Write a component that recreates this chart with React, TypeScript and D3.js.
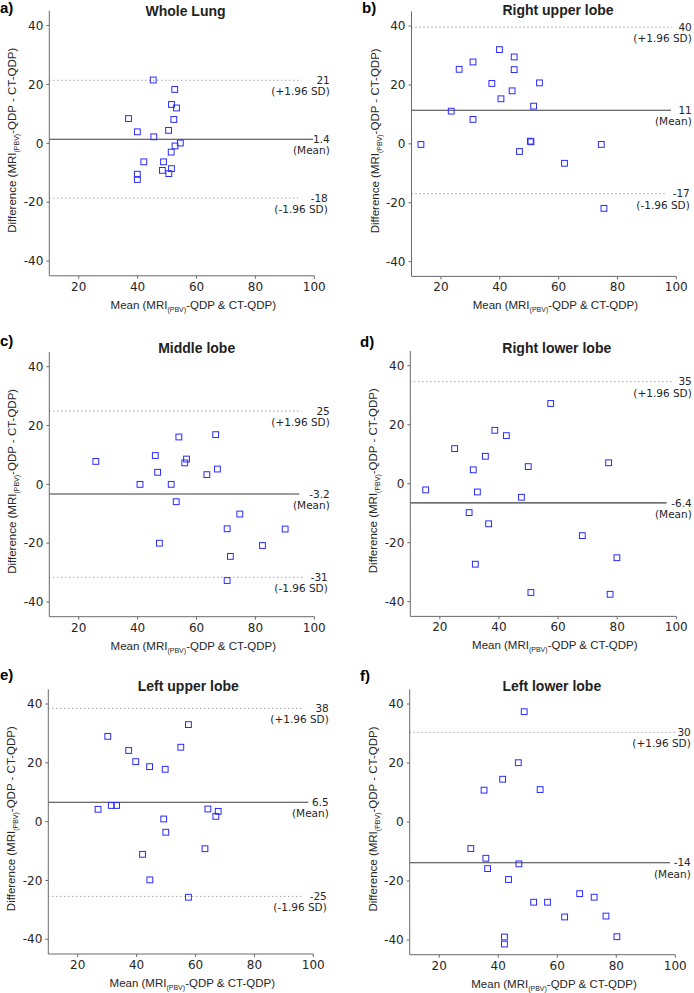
import React from 'react';
import * as d3 from 'd3';

// ---------- data ----------
const panelTags = ['a)', 'b)', 'c)', 'd)', 'e)', 'f)'];
const panelTitles = ['Whole Lung', 'Right upper lobe', 'Middle lobe', 'Right lower lobe', 'Left upper lobe', 'Left lower lobe'];

const wholeLungMean = [45.3, 52.6, 51.5, 53.2, 36.9, 52.3, 39.9, 50.5, 45.5, 54.5, 52.7, 51.4, 42.1, 48.8, 48.4, 51.5, 50.6, 39.9, 39.9];
const wholeLungDiff = [21.5, 18.3, 13.2, 12.0, 8.4, 8.1, 3.9, 4.4, 2.2, 0.1, -0.9, -3.0, -6.3, -6.3, -9.2, -8.6, -10.3, -10.5, -12.3];

const rightUpperMean = [39.9, 44.9, 30.9, 26.2, 44.9, 53.5, 37.3, 44.2, 40.4, 51.5, 23.5, 30.9, 13.2, 50.4, 50.6, 46.7, 74.5, 62.0, 75.4];
const rightUpperDiff = [32.0, 29.5, 27.8, 25.3, 25.2, 20.7, 20.5, 18.0, 15.3, 12.8, 11.1, 8.3, -0.2, 0.9, 0.7, -2.6, -0.2, -6.6, -21.9];

const middleMean = [25.8, 40.8, 46.0, 46.8, 47.4, 51.4, 53.1, 54.0, 56.0, 56.6, 63.5, 66.5, 67.1, 70.4, 74.7, 71.5, 70.4, 82.4, 90.1];
const middleDiff = [7.8, 0.0, 9.8, 4.1, -20.0, 0.0, -5.9, 16.1, 7.3, 8.6, 3.3, 16.9, 5.2, -15.1, -10.1, -24.5, -32.7, -20.8, -15.2];

const rightLowerMean = [15.2, 25.0, 31.3, 32.7, 29.9, 32.0, 35.4, 36.5, 38.6, 42.5, 47.6, 49.9, 50.8, 57.5, 68.2, 77.1, 77.6, 79.9];
const rightLowerDiff = [-2.1, 11.9, 4.7, -2.8, -9.8, -27.3, 9.3, -13.6, 18.1, 16.3, -4.6, 5.8, -36.9, 27.2, -17.6, 7.1, -37.5, -25.1];

const leftUpperMean = [26.9, 30.2, 31.4, 33.2, 37.3, 39.7, 42.0, 44.4, 44.5, 49.2, 49.7, 49.9, 55.0, 57.6, 57.6, 63.2, 64.2, 66.9, 67.7];
const leftUpperDiff = [4.2, 29.0, 5.5, 5.5, 24.2, 20.4, -11.1, 18.7, -19.8, 0.9, 17.8, -3.6, 25.3, 33.0, -25.7, -9.2, 4.3, 1.8, 3.5];

const leftLowerMean = [48.8, 46.8, 41.5, 35.2, 54.2, 30.7, 35.8, 36.4, 47.0, 43.5, 52.0, 56.7, 62.5, 67.6, 72.5, 76.5, 80.2, 42.1, 42.1];
const leftLowerDiff = [37.4, 20.1, 14.5, 10.8, 11.0, -9.0, -12.3, -15.8, -14.2, -19.5, -27.2, -27.2, -32.2, -24.3, -25.5, -31.9, -38.9, -39.0, -41.4];

const meanSeries = [wholeLungMean, rightUpperMean, middleMean, rightLowerMean, leftUpperMean, leftLowerMean];
const diffSeries = [wholeLungDiff, rightUpperDiff, middleDiff, rightLowerDiff, leftUpperDiff, leftLowerDiff];

const upperLimits = [21.4, 39.6, 24.9, 34.6, 38.5, 30.4];
const upperLabels = ['21', '40', '25', '35', '38', '30'];
const meanDiffs = [1.4, 11.4, -3.3, -6.5, 6.6, -13.8];
const meanLabels = ['1.4', '11', '-3.2', '-6.4', '6.5', '-14'];
const lowerLimits: (number | null)[] = [-18.6, -16.9, -31.6, null, -25.4, null];
const lowerLabels: (string | null)[] = ['-18', '-17', '-31', null, '-25', null];

// x-extent (data units) where each reference line stops
const upperEnds = [95.7, 98.5, 95.7, 99.0, 96.1, 99.9];
const meanEnds = [99.6, 98.2, 94.9, 96.7, 98.3, 98.2];
const lowerEnds: (number | null)[] = [94.5, 96.8, 96.5, null, 96.6, null];

const xTicks = [20, 40, 60, 80, 100];
const yTicks = [-40, -20, 0, 20, 40];
const xDomain = [10, 100];
const yDomain = [-45, 45];

// ---------- layout ----------
const layouts = [
  { x0: 49.3, x1: 314.3, yTop: 10.8, yBot: 275.8, titleX: 185.5, titleY: 16, tagX: 0, tagY: 12.5 },
  { x0: 411.5, x1: 676.3, yTop: 11.3, yBot: 276.4, titleX: 558, titleY: 15, tagX: 362, tagY: 12.5 },
  { x0: 49.3, x1: 314.3, yTop: 352, yBot: 616.7, titleX: 196.7, titleY: 353.3, tagX: 0, tagY: 346 },
  { x0: 410.3, x1: 676.3, yTop: 351, yBot: 616.4, titleX: 556.8, titleY: 353.3, tagX: 360, tagY: 347 },
  { x0: 48.3, x1: 313.3, yTop: 689.3, yBot: 954, titleX: 188.3, titleY: 690.7, tagX: 0, tagY: 680 },
  { x0: 409.7, x1: 675.3, yTop: 689.3, yBot: 954.7, titleX: 551.8, titleY: 690.7, tagX: 360, tagY: 681 },
];

const TEXT = '#262626';
const AXIS = '#6a6a6a';
const MARK = '#2a2aff';
const tickFont = 'DejaVu Sans, sans-serif';
const labelFont = 'Liberation Sans, Arial, sans-serif';

function Panel({ i }: { i: number }) {
  const L = layouts[i];
  const x = d3.scaleLinear().domain(xDomain).range([L.x0, L.x1]);
  const y = d3.scaleLinear().domain(yDomain).range([L.yBot, L.yTop]);
  const xs = meanSeries[i];
  const ys = diffSeries[i];
  const sq = 5.8;
  const labelRight = L.x1 + 15.5;
  const lowerRight = L.x1 + 13.5;
  const lines: { v: number; end: number; num: string; sub: string; dotted: boolean; right: number }[] = [
    { v: upperLimits[i], end: upperEnds[i], num: upperLabels[i], sub: '(+1.96 SD)', dotted: true, right: labelRight },
    { v: meanDiffs[i], end: meanEnds[i], num: meanLabels[i], sub: '(Mean)', dotted: false, right: labelRight },
  ];
  if (lowerLimits[i] !== null) {
    lines.push({ v: lowerLimits[i] as number, end: lowerEnds[i] as number, num: lowerLabels[i] as string, sub: '(-1.96 SD)', dotted: true, right: lowerRight });
  }
  const xMid = (L.x0 + L.x1) / 2;
  const yMid = (L.yTop + L.yBot) / 2;
  return (
    <g>
      {/* tag + title */}
      <text x={L.tagX} y={L.tagY} fontFamily={labelFont} fontWeight="bold" fontSize={15} fill="#000">{panelTags[i]}</text>
      <text x={L.titleX} y={L.titleY} textAnchor="middle" fontFamily={labelFont} fontWeight="bold" fontSize={14} fill="#222">{panelTitles[i]}</text>

      {/* reference lines */}
      {lines.map((ln, k) => (
        <g key={k}>
          <line x1={x(xDomain[0])} x2={x(ln.end)} y1={y(ln.v)} y2={y(ln.v)}
            stroke={ln.dotted ? '#777' : '#3c3c3c'} strokeWidth={ln.dotted ? 1 : 1.1}
            strokeDasharray={ln.dotted ? '1,3' : undefined} />
          <text x={ln.right} y={y(ln.v) + 3.8} textAnchor="end" fontFamily={tickFont} fontSize={10.5} fill={TEXT}>{ln.num}</text>
          <text x={ln.right} y={y(ln.v) + 15} textAnchor="end" fontFamily={tickFont} fontSize={10.5} fill={TEXT}>{ln.sub}</text>
        </g>
      ))}

      {/* axes */}
      <line x1={L.x0} x2={L.x0} y1={L.yTop} y2={L.yBot} stroke={AXIS} strokeWidth={1} />
      <line x1={L.x0} x2={L.x1} y1={L.yBot} y2={L.yBot} stroke={AXIS} strokeWidth={1} />
      {yTicks.map((t) => (
        <g key={'y' + t}>
          <line x1={L.x0 - 3} x2={L.x0} y1={y(t)} y2={y(t)} stroke={AXIS} />
          <text x={L.x0 - 6} y={y(t) + 4.2} textAnchor="end" fontFamily={tickFont} fontSize={12} fill={TEXT}>{t}</text>
        </g>
      ))}
      {xTicks.map((t) => (
        <g key={'x' + t}>
          <line x1={x(t)} x2={x(t)} y1={L.yBot} y2={L.yBot + 3} stroke={AXIS} />
          <text x={x(t)} y={L.yBot + 15} textAnchor="middle" fontFamily={tickFont} fontSize={12} fill={TEXT}>{t}</text>
        </g>
      ))}

      {/* axis labels */}
      <text x={xMid + 11.5} y={L.yBot + 33} textAnchor="middle" fontFamily={labelFont} fontSize={11.5} fill={TEXT}>
        <tspan>Mean (MRI</tspan>
        <tspan fontSize={7} dy={3}>(PBV)</tspan>
        <tspan dy={-3}>-QDP &amp; CT-QDP)</tspan>
      </text>
      <text transform={`translate(${L.x0 - 33},${yMid - 3}) rotate(-90)`} textAnchor="middle" fontFamily={labelFont} fontSize={11.5} fill={TEXT}>
        <tspan>Difference (MRI</tspan>
        <tspan fontSize={7} dy={3}>(PBV)</tspan>
        <tspan dy={-3}>-QDP - CT-QDP)</tspan>
      </text>

      {/* points */}
      {xs.map((v, k) => (
        <rect key={'p' + k} x={x(v) - sq / 2} y={y(ys[k]) - sq / 2} width={sq} height={sq}
          fill="none" stroke={MARK} strokeWidth={1} />
      ))}
    </g>
  );
}

export default function App() {
  return (
    <svg width={694} height={993} style={{ position: 'absolute', left: 0, top: 0, background: '#fff' }}>
      <rect x={0} y={0} width={694} height={993} fill="#fff" />
      {layouts.map((_, i) => <Panel key={i} i={i} />)}
    </svg>
  );
}
